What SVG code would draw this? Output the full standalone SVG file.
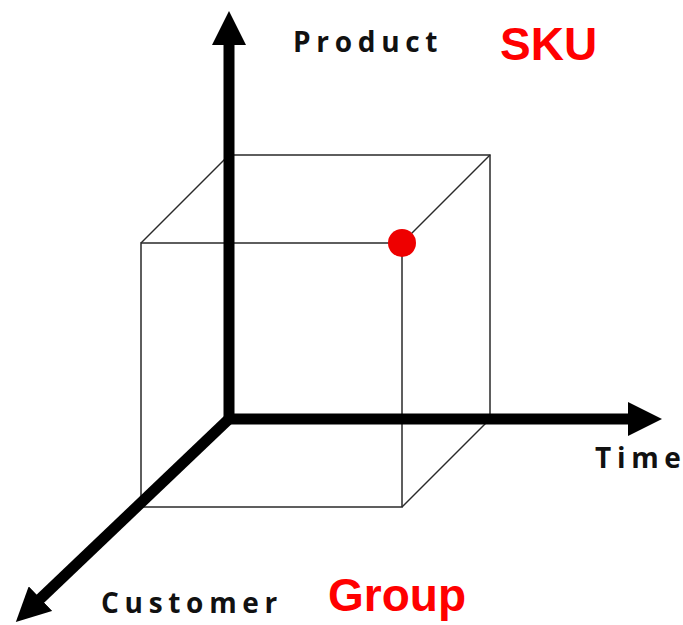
<svg xmlns="http://www.w3.org/2000/svg" width="683" height="625" viewBox="0 0 683 625">
  <style>
    .edge { stroke: #2a2a2a; stroke-width: 1.5; fill: none; }
    .axis { stroke: #000; stroke-width: 11; fill: none; stroke-linejoin: miter; }
    .lbl { font-family: "Open Sans", "DejaVu Sans", sans-serif; font-weight: bold; font-size: 28px; letter-spacing: 5.7px; fill: #111; }
    .last { letter-spacing: 0px; }
    .red { font-family: "Liberation Sans", Arial, sans-serif; font-weight: bold; font-size: 46px; fill: #ff0000; }
  </style>
  <defs>
    <marker id="ah" viewBox="0 0 34 34" refX="2" refY="17" markerWidth="34" markerHeight="34" orient="auto" markerUnits="userSpaceOnUse">
      <path d="M0,0 L34,17 L0,34 z" fill="#000"/>
    </marker>
  </defs>
  <rect width="683" height="625" fill="#ffffff"/>
  <g id="cube">
    <rect class="edge" x="229" y="155" width="261" height="264"/>
    <rect class="edge" x="141" y="243" width="261" height="264"/>
    <line class="edge" x1="141" y1="243" x2="229" y2="155"/>
    <line class="edge" x1="402" y1="243" x2="490" y2="155"/>
    <line class="edge" x1="402" y1="507" x2="490" y2="419"/>
    <line class="edge" x1="141" y1="507" x2="229" y2="419"/>
  </g>
  <g id="connectors">
    <line class="axis" x1="229" y1="424" x2="229" y2="43" marker-end="url(#ah)"/>
    <line class="axis" x1="224" y1="419" x2="630" y2="419" marker-end="url(#ah)"/>
    <line class="axis" x1="231" y1="417" x2="39" y2="600" marker-end="url(#ah)"/>
  </g>
  <g id="point">
    <circle cx="402" cy="243" r="14" fill="#ee0000"/>
  </g>
  <g id="product"><text class="lbl" x="293" y="52">Produc<tspan class="last">t</tspan></text></g>
  <g id="sku"><text class="red" x="500" y="60">SKU</text></g>
  <g id="time"><text class="lbl" x="595" y="468">Tim<tspan class="last">e</tspan></text></g>
  <g id="customer"><text class="lbl" x="101" y="613">Custome<tspan class="last">r</tspan></text></g>
  <g id="group"><text class="red" x="328" y="611">Group</text></g>
</svg>
